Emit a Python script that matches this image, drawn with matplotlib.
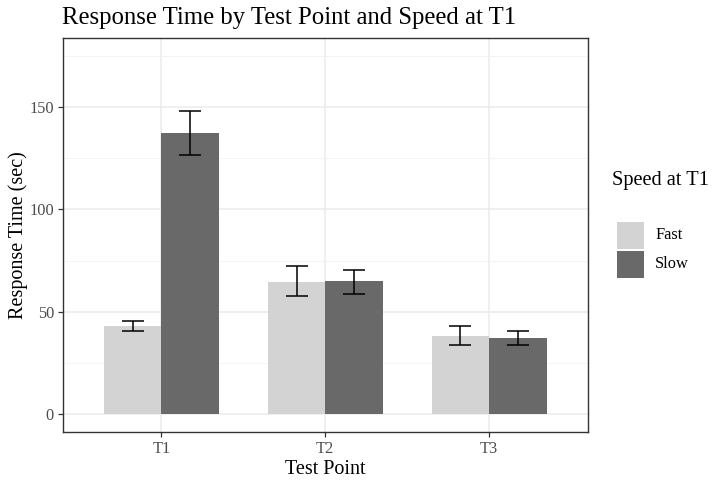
import matplotlib
matplotlib.use("Agg")
import matplotlib.pyplot as plt
from matplotlib.patches import Rectangle
import numpy as np

plt.rcParams['font.family'] = ['Liberation Serif', 'DejaVu Serif']

# data
test_points = ["T1", "T2", "T3"]
speeds = ["Fast", "Slow"]
fast_mean = [43.1, 64.7, 38.3]
fast_lo = [40.7, 57.6, 33.7]
fast_hi = [45.4, 72.1, 42.9]
slow_mean = [137.5, 64.8, 37.0]
slow_lo = [126.6, 58.7, 33.5]
slow_hi = [148.2, 70.3, 40.7]
colors = ["#D3D3D3", "#696969"]

fig = plt.figure(figsize=(7.13, 4.8), dpi=100)
ax = fig.add_axes([0.0884, 0.1006, 0.7356, 0.8196])

x = np.arange(len(test_points)) + 1
bar_w = 0.35
series = [(fast_mean, fast_lo, fast_hi), (slow_mean, slow_lo, slow_hi)]
for i, (m, lo, hi) in enumerate(series):
    xs = x + (i - 0.5) * bar_w
    m = np.array(m)
    ax.bar(xs, m, width=bar_w, color=colors[i], zorder=2)
    yerr = [m - np.array(lo), np.array(hi) - m]
    ax.errorbar(xs, m, yerr=yerr, fmt='none', ecolor='black', elinewidth=1.1,
                capsize=8, capthick=1.1, zorder=3)

# ggplot-ish theme_bw
ax.set_xlim(0.4, 3.6)
ax.set_ylim(-8.75, 183.75)
ax.set_yticks([0, 50, 100, 150])
ax.set_yticks([25, 75, 125, 175], minor=True)
ax.set_xticks(x)
ax.set_xticklabels(test_points)
ax.grid(True, which='major', color='#EBEBEB', linewidth=1.1, zorder=0)
ax.grid(True, which='minor', axis='y', color='#F2F2F2', linewidth=0.6, zorder=0)
ax.set_axisbelow(True)
for s in ax.spines.values():
    s.set_color('#333333')
    s.set_linewidth(1.0)
ax.tick_params(which='major', length=3.5, width=0.9, color='#333333',
               labelcolor='#4D4D4D', labelsize=11.8, pad=3)
ax.tick_params(which='minor', length=0)

ax.set_xlabel("Test Point", fontsize=14.5, labelpad=2)
ax.set_ylabel("Response Time (sec)", fontsize=14.5, labelpad=1)
ax.set_title("Response Time by Test Point and Speed at T1", fontsize=17.8,
             loc='left', x=-0.002, pad=10)

# legend
fig.text(612 / 713, 1 - 181 / 480, "Speed at T1", fontsize=14.7, va='center', ha='left')
key_y = [221, 250]
for i, sp in enumerate(speeds):
    fig.add_artist(Rectangle((617 / 713, 1 - (key_y[i] + 28) / 480), 27 / 713, 27 / 480,
                             transform=fig.transFigure, facecolor=colors[i],
                             edgecolor='none'))
    fig.text(655 / 713, 1 - (key_y[i] + 14) / 480, sp, fontsize=11.8,
             va='center', ha='left')

fig.savefig("out.png", dpi=100)
